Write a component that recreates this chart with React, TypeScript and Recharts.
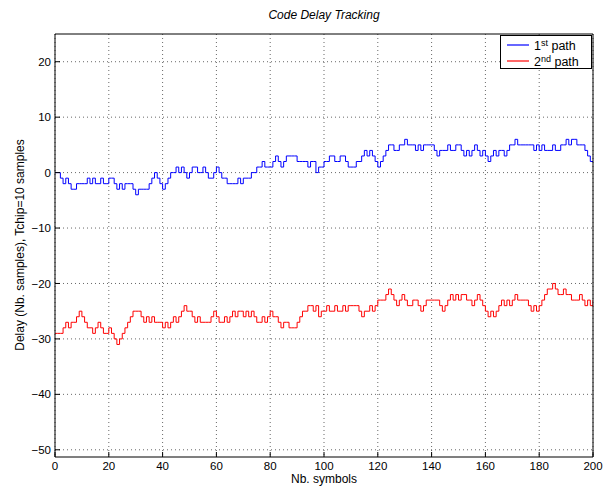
import { LineChart, Line, XAxis, YAxis, CartesianGrid } from 'recharts'

// delay of each path, one value per symbol (0..200)
const PATH1 = [
  0, 0, -1, -2, -1, -2, -3, -3, -2, -2,
  -2, -2, -1, -2, -1, -2, -2, -1, -2, -2,
  -1, -1, -2, -3, -2, -3, -2, -2, -2, -3,
  -4, -3, -3, -3, -3, -2, -1, 0, -1, -2,
  -3, -2, -1, 0, 0, 1, 0, 1, 0, -1,
  0, 1, 1, 0, 0, 1, 0, -1, -1, 0,
  1, 0, -1, -1, -2, -2, -2, -2, -1, -2,
  -1, -1, -1, 0, 0, 1, 1, 2, 1, 1,
  1, 2, 3, 2, 1, 2, 3, 3, 3, 3,
  2, 2, 2, 2, 1, 2, 2, 0, 1, 1,
  2, 2, 3, 3, 2, 2, 3, 3, 2, 1,
  1, 1, 2, 2, 3, 4, 3, 4, 3, 2,
  1, 2, 3, 4, 5, 5, 4, 4, 5, 5,
  6, 5, 5, 5, 4, 5, 4, 5, 5, 5,
  5, 4, 3, 4, 4, 4, 5, 4, 4, 5,
  5, 4, 3, 4, 3, 4, 5, 4, 3, 4,
  3, 2, 3, 4, 3, 4, 4, 3, 4, 5,
  5, 6, 5, 5, 5, 5, 5, 5, 4, 5,
  4, 5, 4, 4, 4, 5, 4, 4, 5, 5,
  6, 5, 6, 6, 5, 5, 5, 4, 3, 2,
  2,
]

const PATH2 = [
  -29, -29, -29, -28, -27, -28, -27, -27, -26, -25,
  -26, -27, -28, -28, -29, -28, -27, -28, -29, -29,
  -28, -29, -30, -31, -30, -29, -28, -27, -26, -25,
  -25, -25, -26, -27, -26, -27, -26, -27, -27, -27,
  -28, -27, -28, -27, -26, -27, -26, -25, -24, -25,
  -25, -26, -27, -26, -27, -27, -27, -27, -26, -25,
  -26, -27, -27, -26, -27, -26, -25, -26, -25, -25,
  -26, -25, -26, -25, -26, -27, -27, -26, -27, -26,
  -25, -26, -26, -27, -28, -27, -27, -28, -28, -28,
  -27, -26, -25, -25, -24, -24, -25, -24, -26, -25,
  -25, -24, -25, -25, -24, -25, -25, -24, -25, -24,
  -24, -24, -24, -25, -26, -25, -25, -24, -25, -24,
  -23, -23, -23, -22, -21, -22, -23, -24, -23, -22,
  -23, -24, -24, -23, -23, -24, -25, -24, -23, -23,
  -23, -23, -23, -24, -25, -24, -23, -22, -23, -22,
  -23, -22, -22, -23, -23, -24, -23, -22, -23, -24,
  -25, -26, -25, -26, -25, -24, -23, -24, -23, -24,
  -23, -22, -23, -23, -23, -23, -24, -25, -24, -25,
  -24, -23, -22, -21, -21, -20, -21, -22, -22, -21,
  -22, -22, -23, -23, -23, -22, -23, -24, -23, -24,
  -23,
]

const X_TICKS = [0, 20, 40, 60, 80, 100, 120, 140, 160, 180, 200]
const Y_TICKS = [-50, -40, -30, -20, -10, 0, 10, 20]

const data = PATH1.map((v, i) => ({ symbol: i, path1: v, path2: PATH2[i] }))

const FONT = 'Liberation Sans, Arial, sans-serif'
const tickStyle = { fill: '#000', fontSize: 11.5, fontFamily: FONT }
const minus = (v: number) => String(v).replace('-', '\u2212')

function PathLegend() {
  const row = (color: string, n: string, sup: string) => (
    <div style={{ display: 'flex', alignItems: 'center', height: 16 }}>
      <svg width={22} height={4} style={{ marginRight: 5 }}>
        <line x1={0} y1={2} x2={22} y2={2} stroke={color} strokeWidth={1.2} />
      </svg>
      <span>
        {n}
        <sup style={{ fontSize: 9, verticalAlign: 4 }}>{sup}</sup> path
      </span>
    </div>
  )
  return (
    <div
      style={{
        position: 'absolute',
        left: 500,
        top: 35,
        width: 92,
        height: 34,
        boxSizing: 'border-box',
        border: '1px solid #000',
        background: '#fff',
        padding: '1px 0 0 6px',
        fontFamily: FONT,
        fontSize: 12.5,
      }}
    >
      {row('#0000ff', '1', 'st')}
      {row('#ff0000', '2', 'nd')}
    </div>
  )
}

export default function App() {
  return (
    <div style={{ position: 'absolute', left: 0, top: 0, width: 612, height: 486, background: '#fff' }}>
      <div
        style={{
          position: 'absolute',
          top: 8,
          left: 55,
          width: 538,
          textAlign: 'center',
          fontFamily: FONT,
          fontSize: 12,
          fontStyle: 'italic',
        }}
      >
        Code Delay Tracking
      </div>
      <div
        style={{
          position: 'absolute',
          left: 20,
          top: 245,
          transform: 'translate(-50%, -50%) rotate(-90deg)',
          whiteSpace: 'nowrap',
          fontFamily: FONT,
          fontSize: 12,
        }}
      >
        Delay (Nb. samples), Tchip=10 samples
      </div>
      <LineChart width={612} height={486} data={data} margin={{ top: 33, right: 18, bottom: 0, left: 0 }}>
        <CartesianGrid stroke="#000" strokeDasharray="1 3" strokeWidth={0.6} horizontalValues={Y_TICKS} verticalValues={X_TICKS} />
        <XAxis
          dataKey="symbol"
          type="number"
          domain={[0, 200]}
          ticks={X_TICKS}
          height={29}
          tick={tickStyle}
          tickSize={-5}
          tickMargin={10}
          stroke="#000"
          allowDataOverflow
          label={{ value: 'Nb. symbols', position: 'insideBottom', offset: 3, style: { fontSize: 12, fontFamily: FONT, fill: '#000' } }}
        />
        <XAxis xAxisId="top" orientation="top" type="number" domain={[0, 200]} ticks={X_TICKS} height={1} tick={false} tickSize={-5} stroke="#000" />
        <YAxis
          type="number"
          domain={[-51.3, 25]}
          ticks={Y_TICKS}
          width={55}
          tick={tickStyle}
          tickFormatter={minus}
          tickSize={-5}
          tickMargin={9}
          stroke="#000"
          allowDataOverflow
        />
        <YAxis yAxisId="right" orientation="right" type="number" domain={[-51.3, 25]} ticks={Y_TICKS} width={1} tick={false} tickSize={-5} stroke="#000" />
        <Line type="stepAfter" dataKey="path1" name="1st path" stroke="#0000ff" strokeWidth={1} dot={false} isAnimationActive={false} />
        <Line type="stepAfter" dataKey="path2" name="2nd path" stroke="#ff0000" strokeWidth={1} dot={false} isAnimationActive={false} />
      </LineChart>
      <PathLegend />
    </div>
  )
}
